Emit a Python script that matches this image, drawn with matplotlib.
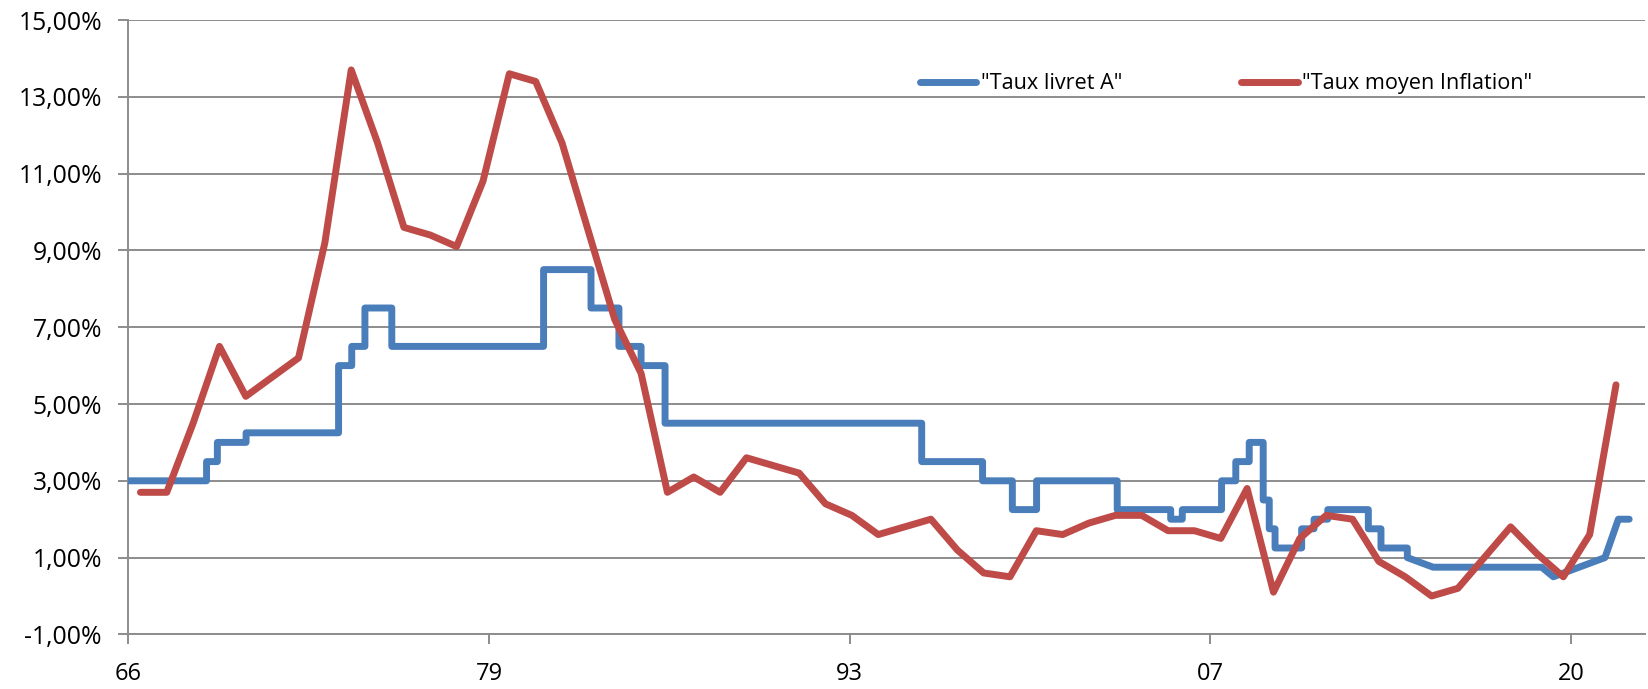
import matplotlib
matplotlib.use("Agg")
import matplotlib.pyplot as plt
import numpy as np

# ---- Data (decimal years) ----
# Livret A: dates of rate changes and new rates (step function)
livret_dates = [1966.0, 1968.97, 1969.38, 1970.47, 1973.98, 1974.48, 1974.98, 1976.0,
                1981.76, 1983.56, 1984.62, 1985.46, 1986.37, 1996.11, 1998.42, 1999.55,
                2000.47, 2003.53, 2005.56, 2006.0, 2007.49, 2008.03, 2008.54, 2009.07,
                2009.3, 2009.52, 2010.53, 2011.0, 2011.52, 2013.06, 2013.54, 2014.54]
livret_rates = [3.0, 3.5, 4.0, 4.25, 6.0, 6.5, 7.5, 6.5,
                8.5, 7.5, 6.5, 6.0, 4.5, 3.5, 3.0, 2.25,
                3.0, 2.25, 2.0, 2.25, 3.0, 3.5, 4.0, 2.5,
                1.75, 1.25, 1.75, 2.0, 2.25, 1.75, 1.25, 1.0]
# final points joined directly (no step)
livret_tail_dates = [2015.52, 2019.64, 2020.08, 2022.04, 2022.55, 2022.96]
livret_tail_rates = [0.75, 0.75, 0.5, 1.0, 2.0, 2.0]

# Inflation: yearly averages, plotted mid-year
infl_years = list(range(1966, 2023))
infl_values = [2.7, 2.7, 4.5, 6.5, 5.2, 5.7, 6.2, 9.2, 13.7, 11.8,
               9.6, 9.4, 9.1, 10.8, 13.6, 13.4, 11.8, 9.5, 7.2, 5.8,
               2.7, 3.1, 2.7, 3.6, 3.4, 3.2, 2.4, 2.1, 1.6, 1.8,
               2.0, 1.2, 0.6, 0.5, 1.7, 1.6, 1.9, 2.1, 2.1, 1.7,
               1.7, 1.5, 2.8, 0.1, 1.5, 2.1, 2.0, 0.9, 0.5, 0.0,
               0.2, 1.0, 1.8, 1.1, 0.5, 1.6, 5.5]

x_tick_labels = ["66", "79", "93", "07", "20"]
y_ticks = [-1, 1, 3, 5, 7, 9, 11, 13, 15]

# ---- Build step series ----
bx, by = [livret_dates[0]], [livret_rates[0]]
for i in range(1, len(livret_dates)):
    bx += [livret_dates[i], livret_dates[i]]
    by += [livret_rates[i - 1], livret_rates[i]]
bx += livret_tail_dates
by += livret_tail_rates

ix = [y + 0.46 for y in infl_years]

plt.rcParams['font.family'] = ['Open Sans', 'DejaVu Sans']

W, H = 1648, 689
fig = plt.figure(figsize=(W / 100, H / 100), dpi=100)
left, right, top, bottom = 128.3, 1645, 20, 634.4
ax = fig.add_axes([left / W, 1 - bottom / H, (right - left) / W, (bottom - top) / H])

blue = "#4A7EBB"
red = "#BE4B48"
grid_c = "#8C8C8C"

ax.plot(bx, by, color=blue, lw=5.0, solid_joinstyle='round', solid_capstyle='round',
        label='"Taux livret A"', zorder=3)
ax.plot(ix, infl_values, color=red, lw=5.0, solid_joinstyle='round', solid_capstyle='round',
        label='"Taux moyen Inflation"', zorder=4)

ax.set_xlim(1966.0, 1966.0 + (right - left) / 26.35)
ax.set_ylim(-1, 15)

step = 5000 / 365.25
ax.set_xticks([1966.0 + k * step for k in range(len(x_tick_labels))])
ax.set_xticklabels(x_tick_labels)
ax.set_yticks(y_ticks)
ax.set_yticklabels([("%.2f" % v).replace(".", ",") + "%" for v in y_ticks])

ax.yaxis.grid(True, color=grid_c, lw=1.4)
ax.set_axisbelow(True)
for s in ["top", "right"]:
    ax.spines[s].set_visible(False)
for s in ["left", "bottom"]:
    ax.spines[s].set_color(grid_c)
    ax.spines[s].set_linewidth(1.4)

ax.tick_params(axis='x', direction='out', length=7, width=1.4, color=grid_c,
               labelsize=17, pad=13, labelcolor='black')
ax.tick_params(axis='y', direction='out', length=7, width=1.4, color=grid_c,
               labelsize=17.8, pad=12, labelcolor='black')

leg = ax.legend(loc='center left', bbox_to_anchor=(0.522, 0.896), ncol=2, frameon=False,
                fontsize=15.6, handlelength=2.6, handletextpad=0.2, columnspacing=5.5,
                borderpad=0, borderaxespad=0)
for h in leg.legend_handles:
    h.set_solid_capstyle('round')

fig.savefig("out.png", dpi=100)
